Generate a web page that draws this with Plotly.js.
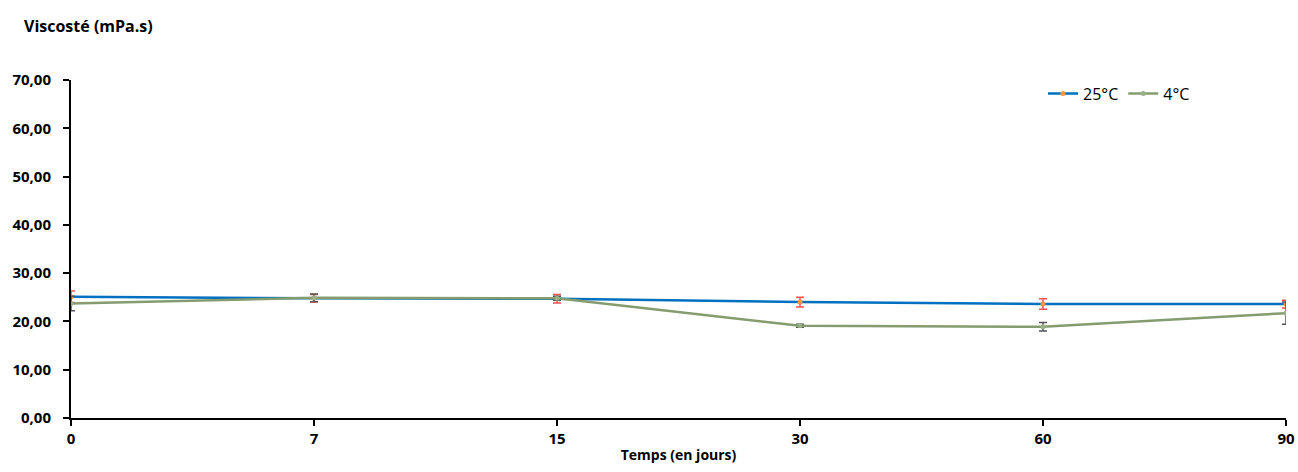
<!DOCTYPE html>
<html>
<head>
<meta charset="utf-8">
<script src="https://cdn.plot.ly/plotly-3.0.1.min.js"></script>
<style>html,body{margin:0;padding:0;background:#fff;}#chart{width:1298px;height:472px;}</style>
</head>
<body>
<div id="chart"></div>
<script>
const days = ["0", "7", "15", "30", "60", "90"];
const visc25 = [25.1, 24.8, 24.7, 24.0, 23.6, 23.6];
const err25 = [1.2, 0.8, 0.9, 1.0, 1.1, 0.8];
const visc4 = [23.7, 24.9, 24.8, 19.1, 18.9, 21.7];
const err4 = [1.5, 0.8, 0.4, 0.3, 0.9, 2.3];

const font = "'Open Sans', 'Noto Sans', sans-serif";

const traces = [
  {
    x: days, y: visc25, name: "25°C", type: "scatter", mode: "lines+markers",
    line: {color: "#0070C0", width: 2.5},
    marker: {color: "#F79646", size: 5},
    error_y: {type: "data", array: err25, visible: true, color: "#FF5050", thickness: 1.5, width: 4}
  },
  {
    x: days, y: visc4, name: "4°C", type: "scatter", mode: "lines+markers",
    line: {color: "#849C6E", width: 2.5},
    marker: {color: "#9BAF88", size: 5},
    error_y: {type: "data", array: err4, visible: true, color: "#555555", thickness: 1.5, width: 4}
  }
];

const layout = {
  width: 1298, height: 472,
  margin: {l: 71, r: 12, t: 80, b: 54},
  paper_bgcolor: "#fff", plot_bgcolor: "#fff",
  separators: ",.",
  showlegend: true,
  legend: {orientation: "h", x: 0.8, y: 0.96, xanchor: "left", yanchor: "middle",
           font: {family: font, size: 16, color: "#000"}, bgcolor: "rgba(0,0,0,0)",
           itemwidth: 30, tracegroupgap: 0},
  xaxis: {
    type: "category", range: [0, 5],
    showline: true, linecolor: "#000", linewidth: 2,
    ticks: "outside", ticklen: 6, tickcolor: "#000", tickwidth: 2,
    showgrid: false, zeroline: false,
    tickfont: {family: font, size: 15, color: "#000", weight: "bold"},
    title: {text: "Temps (en jours)", font: {family: font, size: 14, color: "#000", weight: "bold"}, standoff: 3}
  },
  yaxis: {
    range: [0, 70], dtick: 10, tickformat: ".2f",
    showline: true, linecolor: "#000", linewidth: 2,
    ticks: "outside", ticklen: 6, tickcolor: "#000", tickwidth: 2,
    ticklabelstandoff: 9,
    showgrid: false, zeroline: false,
    tickfont: {family: font, size: 15, color: "#000", weight: "bold"}
  },
  annotations: [
    {text: "Viscosté (mPa.s)", xref: "paper", yref: "paper", x: -0.04, y: 1.16,
     xanchor: "left", yanchor: "middle", showarrow: false,
     font: {family: font, size: 16, color: "#000", weight: "bold"}}
  ]
};

Plotly.newPlot("chart", traces, layout, {displayModeBar: false});
</script>
</body>
</html>
